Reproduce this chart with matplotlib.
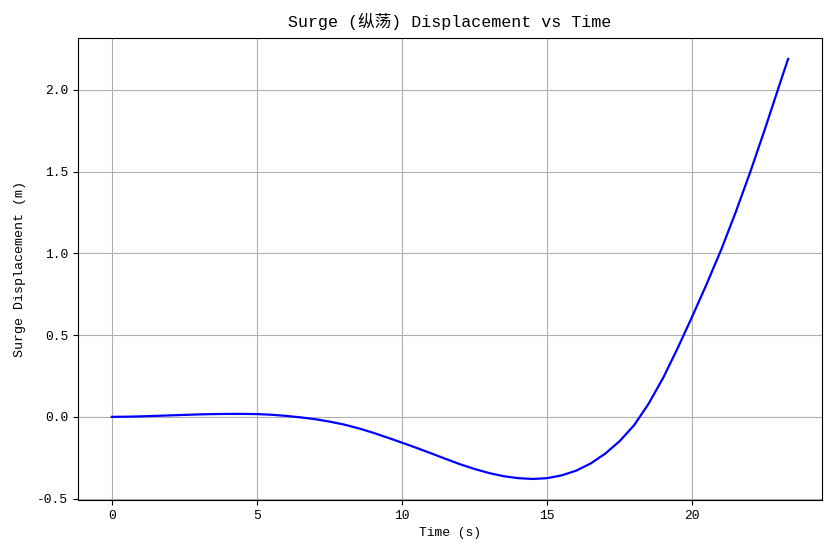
import matplotlib.pyplot as plt
plt.switch_backend('agg')

import numpy as np

plt.rcParams['font.family'] = ['Liberation Mono', 'Noto Sans CJK SC', 'DejaVu Sans']
plt.rcParams['axes.unicode_minus'] = False

# values (every 0.5 s)
time_s = np.array([0, 0.5, 1, 1.5, 2, 2.5, 3, 3.5, 4, 4.5, 5, 5.5, 6, 6.5, 7,
                   7.5, 8, 8.5, 9, 9.5, 10, 10.5, 11, 11.5, 12, 12.5, 13, 13.5,
                   14, 14.5, 15, 15.5, 16, 16.5, 17, 17.5, 18, 18.5, 19, 19.5,
                   20, 20.5, 21, 21.5, 22, 22.5, 23, 23.3])
surge_m = np.array([0.000, 0.001, 0.003, 0.006, 0.009, 0.012, 0.015, 0.017,
                    0.018, 0.018, 0.017, 0.013, 0.006, -0.003, -0.014, -0.029,
                    -0.047, -0.070, -0.097, -0.127, -0.158, -0.190, -0.223,
                    -0.257, -0.290, -0.319, -0.344, -0.363, -0.375, -0.380,
                    -0.375, -0.358, -0.329, -0.285, -0.225, -0.148, -0.050,
                    0.082, 0.240, 0.422, 0.615, 0.815, 1.025, 1.255, 1.500,
                    1.760, 2.030, 2.190])

fig = plt.figure(figsize=(8.34, 5.58), dpi=100)
ax = fig.add_axes([0.0935, 0.104, 0.892, 0.828])

ax.plot(time_s, surge_m, color='blue', linewidth=1.6)

ax.set_title('Surge (纵荡) Displacement vs Time', fontsize=12, pad=8)
ax.set_xlabel('Time (s)', fontsize=9.4)
ax.set_ylabel('Surge Displacement (m)', fontsize=9.6, labelpad=8)
ax.tick_params(labelsize=9.4)
ax.grid(True)

fig.savefig('out.png', dpi=100)
